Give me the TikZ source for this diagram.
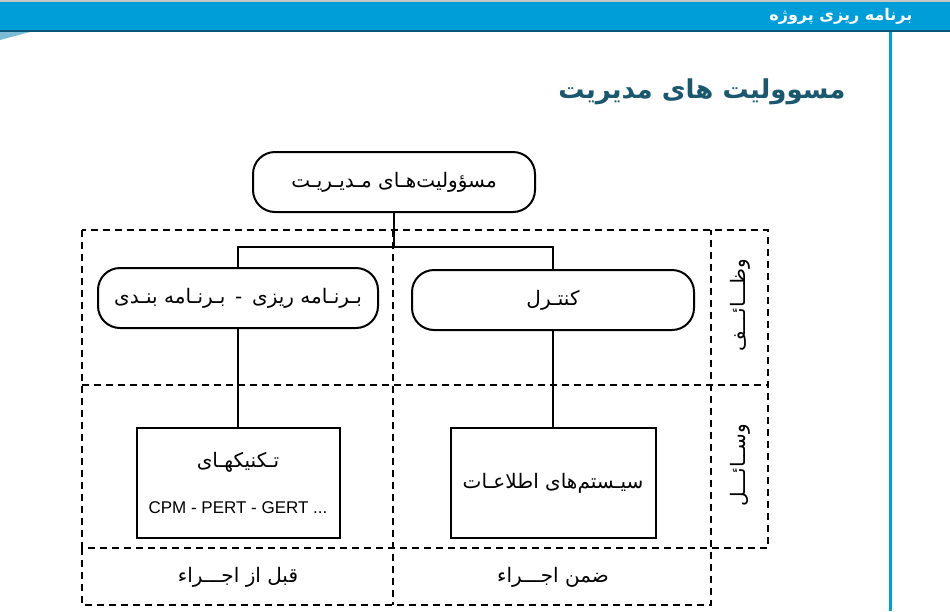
\documentclass[tikz,border=0pt]{standalone}
\usepackage{fontspec}
\newfontfamily\farsi[Script=Arabic]{DejaVu Sans}
\newfontfamily\latinsans{Liberation Sans}
\TeXXeTstate=1
\usetikzlibrary{calc}

\definecolor{barblue}{RGB}{0,158,216}
\definecolor{titleteal}{RGB}{26,88,112}
\newcommand{\fatext}[1]{\beginR#1\endR}

\tikzset{
  pill/.style={draw, line width=2pt, rounded corners=22pt, minimum width=282pt,
    minimum height=60pt, font=\farsi\fontsize{20}{22}\selectfont},
  panel/.style={draw, line width=2pt, minimum width=203pt, minimum height=110pt,
    font=\farsi\fontsize{20}{22}\selectfont},
  frame/.style={dash pattern=on 7pt off 5pt, line width=1.4pt},
  link/.style={line width=1.6pt},
  lbl/.style={font=\farsi\fontsize{20}{22}\selectfont},
}

\begin{document}
\begin{tikzpicture}[x=1pt,y=-1pt]
    \useasboundingbox (0,0) rectangle (950,611);

    % Slide header
    \fill[gray!45] (0,0) rectangle (950,2);
    \fill[barblue] (0,2) rectangle (950,31);
    \draw[barblue!55!black, line width=1.5pt] (0,31) -- (950,31);
    \fill[cyan!45!teal!60] (0,32) -- (30,32) -- (0,40) -- cycle;
    \draw[barblue, line width=3pt] (890,32) -- (890,611);
    \node[font=\farsi\bfseries\fontsize{16}{18}\selectfont, text=white, anchor=east] (header) at (916,16) {\fatext{برنامه ریزی پروژه}};

    % Title
    \node[font=\farsi\bfseries\fontsize{26}{29}\selectfont, text=titleteal, anchor=east] (title) at (849,92) {\fatext{مسوولیت های مدیریت}};

    % Dashed grid
    \draw[frame] (82,230) rectangle (768,548);
    \draw[frame] (82,548) -- (82,605) -- (711,605) -- (711,230);
    \draw[frame] (82,385) -- (768,385);
    \draw[frame] (393,230) -- (393,605);

    % Boxes
    \node[pill] (resp) at (394,182) {\fatext{مسؤولیت‌هـای مـدیـریـت}};
    \node[pill, minimum width=280pt] (plan) at (238,298) {\fatext{بـرنـامه ریزی \,-\, بـرنـامه بنـدی}};
    \node[pill] (ctrl) at (553,300) {\fatext{کنتـرل}};
    \node[panel, align=center] (tech) at (238,483) {\fatext{تـکنیکهـای}\\[24pt]{\latinsans\fontsize{17}{19}\selectfont CPM - PERT - GERT ...}};
    \node[panel, minimum width=205pt] (info) at (553,483) {\fatext{سیـستم‌های اطلاعـات}};

    % Connectors
    \coordinate (fork) at (394,247);
    \draw[link] (resp.south) -- (fork);
    \draw[link] (plan.north) |- (fork) -| (ctrl.north);
    \draw[link] (plan.south) -- (tech.north);
    \draw[link] (ctrl.south) -- (info.north);

    % Row and column labels
    \node[lbl, rotate=90] (duties) at (740,305) {\fatext{وظـــائـــف}};
    \node[lbl, rotate=90] (means) at (740,465) {\fatext{وســائـــل}};
    \node[lbl] (before) at (238,577) {\fatext{قبل از اجـــراء}};
    \node[lbl] (during) at (553,577) {\fatext{ضمن اجـــراء}};
\end{tikzpicture}
\end{document}
